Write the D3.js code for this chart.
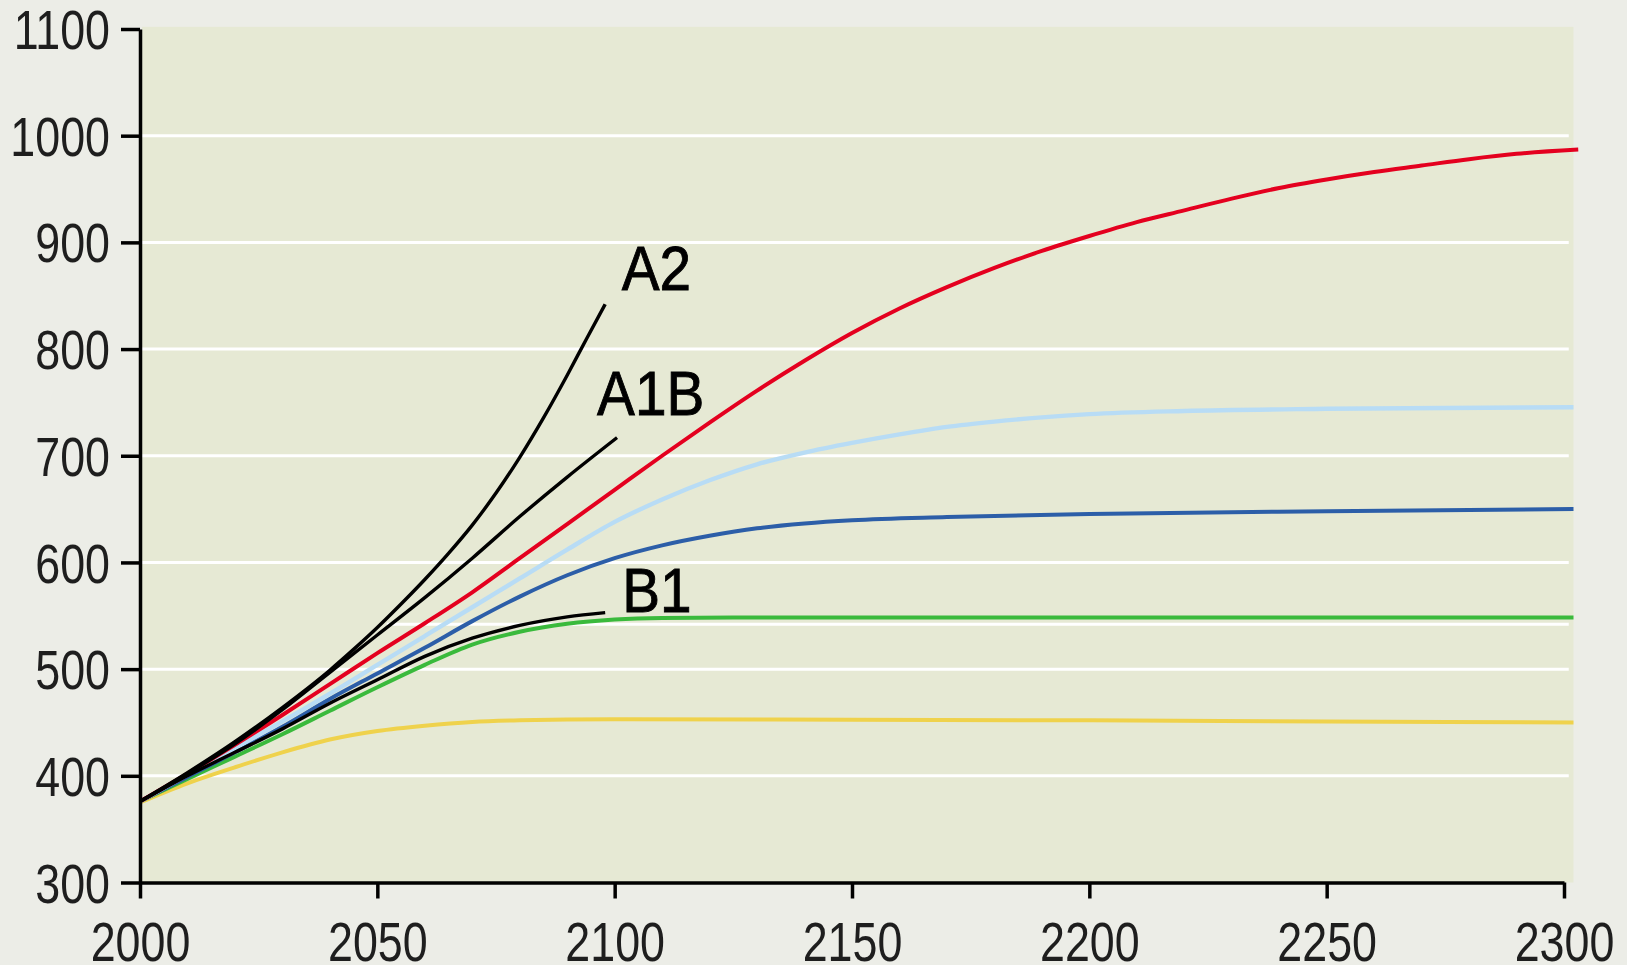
<!DOCTYPE html>
<html>
<head>
<meta charset="utf-8">
<script src="https://cdn.jsdelivr.net/npm/d3@7"></script>
<style>
  html, body { margin: 0; padding: 0; background: #ecede7; }
  svg { display: block; }
</style>
</head>
<body>
<svg id="chart" width="1627" height="965"></svg>
<script>
// Axis ticks
const xTicks = [2000, 2050, 2100, 2150, 2200, 2250, 2300];
const yTicks = [300, 400, 500, 600, 700, 800, 900, 1000, 1100];
const gridValues = [400, 500, 600, 700, 800, 900, 1000];

// Extra horizontal rule drawn under the curves (year, ppm)
const extraRule = [[2052, 542], [2301, 542]];

// SRES emission scenarios (year, CO2 ppm)
const a2  = [[2000,376],[2010,403],[2020,432],[2030,464],[2040,499],[2045,518.5],[2050,539],[2055,561],[2060,584],[2065,608.5],[2070,635],[2075,665],[2080,698.5],[2085,735.5],[2090,775.5],[2094,809],[2098,842]];
const a1b = [[2000,376],[2010,402],[2020,430],[2030,462],[2040,497],[2050,532],[2060,567],[2070,604],[2080,643],[2090,680],[2100.5,717]];
const b1  = [[2000,376],[2010,400],[2020,422],[2030,444],[2040,468],[2050,490],[2060,512],[2070,529],[2080,541],[2090,549],[2098,553]];

// Stabilisation profiles (year, CO2 ppm)
const wre450  = [[2000,375],[2010,393],[2020,408],[2030,422],[2040,434],[2050,442],[2060,447],[2070,450.5],[2080,452],[2100,453],[2150,452.5],[2200,452],[2250,451],[2302,450]];
const wre550  = [[2000,376],[2010,397],[2020,418],[2030,439],[2040,461],[2050,483],[2060,504],[2070,523],[2080,535],[2090,542.5],[2100,546.5],[2110,548],[2130,548.5],[2200,548.5],[2302,548.5]];
const wre650  = [[2000,376],[2010,399],[2020,422],[2030,446],[2040,472],[2050,496],[2060,520],[2070,545],[2080,568],[2090,588],[2100,604],[2110,616],[2120,625],[2130,632],[2140,636.5],[2150,639.5],[2170,642.5],[2200,645.5],[2250,648],[2302,650]];
const wre750  = [[2000,376],[2010,401],[2020,426],[2030,451],[2040,477],[2050,504],[2060,531],[2070,558],[2080,585],[2090,612],[2100,638],[2110,659],[2120,677],[2130,692],[2140,703],[2150,712],[2160,720],[2170,727],[2180,732],[2190,736],[2200,739],[2220,742],[2250,744],[2302,745.5]];
const wre1000 = [[2000,376],[2010,402],[2020,429],[2030,457],[2040,486],[2050,515],[2060,543],[2070,572],[2080,604],[2090,636],[2100,668],[2110,700],[2120,731],[2130,761],[2140,789],[2150,815],[2160,838],[2170,858],[2180,876],[2190,892],[2200,906],[2210,919],[2220,930],[2230,941],[2240,951],[2250,959],[2260,966],[2270,972],[2280,978],[2290,983],[2303,987]];

// Scenario labels (text, year, ppm at baseline)
const labelNames = ["A2", "A1B", "B1"];
const labelYears = [2101.5, 2096.3, 2101.6];
const labelValues = [855, 738, 553.5];

const svg = d3.select("#chart");
const x = d3.scaleLinear().domain([2000, 2300]).range([140, 1564]);
const y = d3.scaleLinear().domain([300, 1100]).range([882.5, 29]);

const FONT = "'Liberation Sans', Arial, Helvetica, sans-serif";

// Plot panel
svg.append("rect")
  .attr("x", x(2000) + 2)
  .attr("y", y(1102))
  .attr("width", x(2302) - x(2000) - 2)
  .attr("height", y(300) - y(1102))
  .attr("fill", "#e6e9d4");

// Gridlines
svg.append("g").selectAll("line")
  .data(gridValues)
  .join("line")
  .attr("x1", x(2000)).attr("x2", x(2301))
  .attr("y1", d => y(d)).attr("y2", d => y(d))
  .attr("stroke", "#ffffff")
  .attr("stroke-width", 3);

svg.append("line")
  .attr("x1", x(extraRule[0][0])).attr("x2", x(extraRule[1][0]))
  .attr("y1", y(extraRule[0][1])).attr("y2", y(extraRule[1][1]))
  .attr("stroke", "#ffffff")
  .attr("stroke-width", 3);

// Curves
const line = d3.line()
  .x(d => x(d[0]))
  .y(d => y(d[1]))
  .curve(d3.curveMonotoneX);

const series = [
  { data: wre450, color: "#efd24c", width: 4 },
  { data: wre550, color: "#3aba3c", width: 4 },
  { data: wre650, color: "#2c5ea8", width: 4 },
  { data: wre750, color: "#b8dcf5", width: 4.4 },
  { data: wre1000, color: "#e4001f", width: 4 },
  { data: b1, color: "#000000", width: 3.4 },
  { data: a1b, color: "#000000", width: 3.4 },
  { data: a2, color: "#000000", width: 3.4 }
];

svg.append("g").selectAll("path")
  .data(series)
  .join("path")
  .attr("d", d => line(d.data))
  .attr("fill", "none")
  .attr("stroke", d => d.color)
  .attr("stroke-width", d => d.width)
  .attr("stroke-linejoin", "round");

// Scenario labels
svg.append("g").selectAll("text")
  .data(labelNames)
  .join("text")
  .attr("transform", (d, i) => `translate(${x(labelYears[i])},${y(labelValues[i])}) scale(0.9,1)`)
  .attr("font-family", FONT)
  .attr("font-size", 63)
  .attr("fill", "#000")
  .attr("stroke", "#000")
  .attr("stroke-width", 0.9)
  .text(d => d);

// Y axis
const yAxis = svg.append("g")
  .attr("transform", `translate(${x(2000)},0)`)
  .call(d3.axisLeft(y).tickValues(yTicks).tickSize(19).tickSizeOuter(0).tickFormat(d3.format("d")));

// X axis
const xAxis = svg.append("g")
  .attr("transform", `translate(0,${y(300)})`)
  .call(d3.axisBottom(x).tickValues(xTicks).tickSize(16).tickSizeOuter(0).tickFormat(d3.format("d")));

[yAxis, xAxis].forEach(g => {
  g.select(".domain").attr("stroke", "#000").attr("stroke-width", 3.5);
  g.selectAll(".tick line").attr("stroke", "#000").attr("stroke-width", 3.5);
  g.selectAll(".tick text")
    .attr("font-family", FONT)
    .attr("font-size", 56)
    .attr("fill", "#1e1e1e");
});

yAxis.selectAll(".tick text")
  .attr("x", 0)
  .attr("dy", "0.35em")
  .attr("transform", "translate(-30,0) scale(0.8,1)");

xAxis.selectAll(".tick text")
  .attr("y", 79)
  .attr("dy", 0)
  .attr("transform", "scale(0.8,1)");
</script>
</body>
</html>
